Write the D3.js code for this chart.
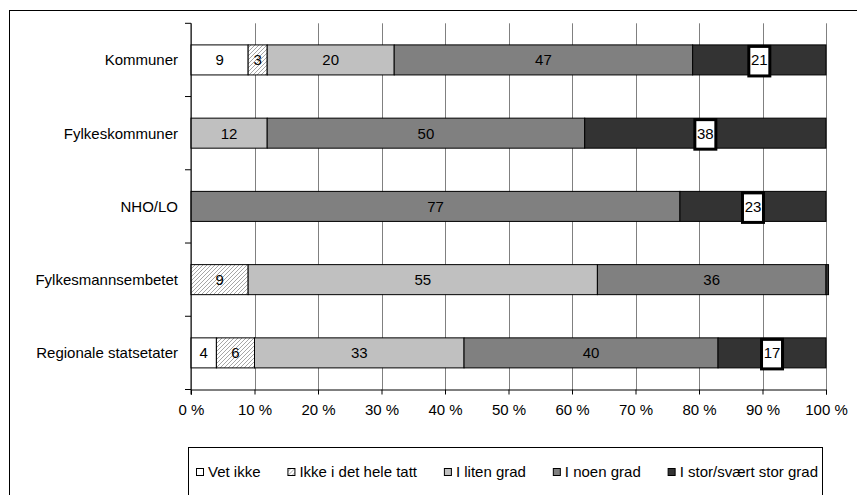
<!DOCTYPE html>
<html>
<head>
<meta charset="utf-8">
<script src="https://cdn.jsdelivr.net/npm/d3@7"></script>
<style>
  html, body { margin: 0; padding: 0; background: #fff; }
  svg { display: block; font-family: "Liberation Sans", Arial, sans-serif; }
</style>
</head>
<body>
<svg id="chart" width="857" height="495"></svg>
<script>
// Categories (top to bottom) and answer shares in percent
const categories = ["Kommuner", "Fylkeskommuner", "NHO/LO", "Fylkesmannsembetet", "Regionale statsetater"];
const seriesNames = ["Vet ikke", "Ikke i det hele tatt", "I liten grad", "I noen grad", "I stor/svært stor grad"];
const vetIkke      = [9, 0, 0, 0, 4];
const ikkeHele     = [3, 0, 0, 9, 6];
const litenGrad    = [20, 12, 0, 55, 33];
const noenGrad     = [47, 50, 77, 36, 40];
const storGrad     = [21, 38, 23, 0.4, 17];
const xTicks = [0, 10, 20, 30, 40, 50, 60, 70, 80, 90, 100];

const seriesValues = [vetIkke, ikkeHele, litenGrad, noenGrad, storGrad];
const fills = ["#ffffff", "url(#hatch)", "#c0c0c0", "#808080", "#333333"];
const FONT = 15;

const svg = d3.select("#chart");

// diagonal hatch for "Ikke i det hele tatt"
const defs = svg.append("defs");
const pat = defs.append("pattern")
  .attr("id", "hatch").attr("patternUnits", "userSpaceOnUse")
  .attr("width", 4).attr("height", 4);
pat.append("rect").attr("width", 4).attr("height", 4).attr("fill", "#fff");
pat.append("path").attr("d", "M-1,1 l2,-2 M0,4 l4,-4 M3,5 l2,-2")
  .attr("stroke", "#a6a6a6").attr("stroke-width", 1);

// outer frame
svg.append("rect").attr("x", 9.5).attr("y", 10.5).attr("width", 900).attr("height", 600)
  .attr("fill", "none").attr("stroke", "#000").attr("stroke-width", 1);

const x = d3.scaleLinear().domain([0, 100]).range([191, 826]);
const y = d3.scaleBand().domain(categories).range([23.3, 389.5])
  .paddingInner(0.59).paddingOuter(0.295);

// rows of stacked data
const rows = categories.map((c, i) => {
  const o = { cat: c };
  seriesNames.forEach((s, j) => { o[s] = seriesValues[j][i]; });
  return o;
});
const stacked = d3.stack().keys(seriesNames)(rows);

// vertical gridlines
svg.append("g").selectAll("line").data(xTicks).join("line")
  .attr("x1", d => Math.round(x(d)) + 0.5).attr("x2", d => Math.round(x(d)) + 0.5)
  .attr("y1", y.range()[0]).attr("y2", y.range()[1])
  .attr("stroke", "#808080").attr("stroke-width", 1);

// bars
const layers = svg.append("g").selectAll("g").data(stacked).join("g")
  .attr("fill", (d, i) => fills[i]);
layers.selectAll("rect").data(d => d.filter(p => p[1] - p[0] > 0)).join("rect")
  .attr("x", d => x(d[0]))
  .attr("y", d => y(d.data.cat))
  .attr("width", d => x(d[1]) - x(d[0]))
  .attr("height", y.bandwidth())
  .attr("stroke", "#000").attr("stroke-width", 1);

// value labels
stacked.forEach((layer, si) => {
  layer.forEach(p => {
    const v = p[1] - p[0];
    if (v < 1) return;
    const cx = x((p[0] + p[1]) / 2);
    const cy = y(p.data.cat) + y.bandwidth() / 2;
    if (si === 4) {
      svg.append("rect")
        .attr("x", cx - 10.5).attr("y", y(p.data.cat) + 1.5)
        .attr("width", 21).attr("height", y.bandwidth() - 0.5)
        .attr("fill", "#fff").attr("stroke", "#000").attr("stroke-width", 3);
    }
    svg.append("text")
      .attr("x", cx).attr("y", cy).attr("dy", "0.36em")
      .attr("text-anchor", "middle").attr("font-size", FONT).attr("fill", "#000")
      .text(v);
  });
});

// x axis
const xAxis = svg.append("g").attr("transform", `translate(0,${y.range()[1]})`)
  .call(d3.axisBottom(x).tickValues(xTicks).tickFormat(d => d + " %").tickSize(5).tickPadding(10));
xAxis.select(".domain").attr("stroke", "#000");
xAxis.selectAll(".tick line").attr("stroke", "#000");
xAxis.selectAll("text").attr("font-size", FONT).attr("font-family", "Liberation Sans, Arial, sans-serif").attr("fill", "#000");

// y axis: line with ticks at category boundaries
const yAxis = svg.append("g");
yAxis.append("line")
  .attr("x1", x(0)).attr("x2", x(0))
  .attr("y1", y.range()[0]).attr("y2", y.range()[1] + 5)
  .attr("stroke", "#000");
d3.range(categories.length + 1).forEach(i => {
  const yy = y.range()[0] + i * y.step();
  yAxis.append("line").attr("x1", x(0) - 6).attr("x2", x(0))
    .attr("y1", yy).attr("y2", yy).attr("stroke", "#000");
});
yAxis.selectAll("text").data(categories).join("text")
  .attr("x", 178).attr("y", d => y(d) + y.bandwidth() / 2).attr("dy", "0.36em")
  .attr("text-anchor", "end").attr("font-size", FONT).attr("fill", "#000")
  .text(d => d);

// legend: box with items spread to fill its width
const legend = svg.append("g");
legend.append("rect").attr("x", 188.5).attr("y", 447.5).attr("width", 634).attr("height", 100)
  .attr("fill", "#fff").attr("stroke", "#000");
const items = legend.selectAll("g.item").data(seriesNames).join("g").attr("class", "item");
items.append("rect").attr("x", 0.5).attr("y", 468.5).attr("width", 7).attr("height", 7)
  .attr("fill", (d, i) => fills[i]).attr("stroke", "#000");
items.append("text").attr("x", 12).attr("y", 472).attr("dy", "0.36em")
  .attr("font-size", FONT).attr("fill", "#000").text(d => d);
const widths = items.select("text").nodes().map(n => 12 + n.getComputedTextLength());
const start = 196, end = 818;
const gap = (end - start - d3.sum(widths)) / (widths.length - 1);
let lx = start;
items.each(function (d, i) {
  d3.select(this).attr("transform", `translate(${lx},0)`);
  lx += widths[i] + gap;
});
</script>
</body>
</html>
